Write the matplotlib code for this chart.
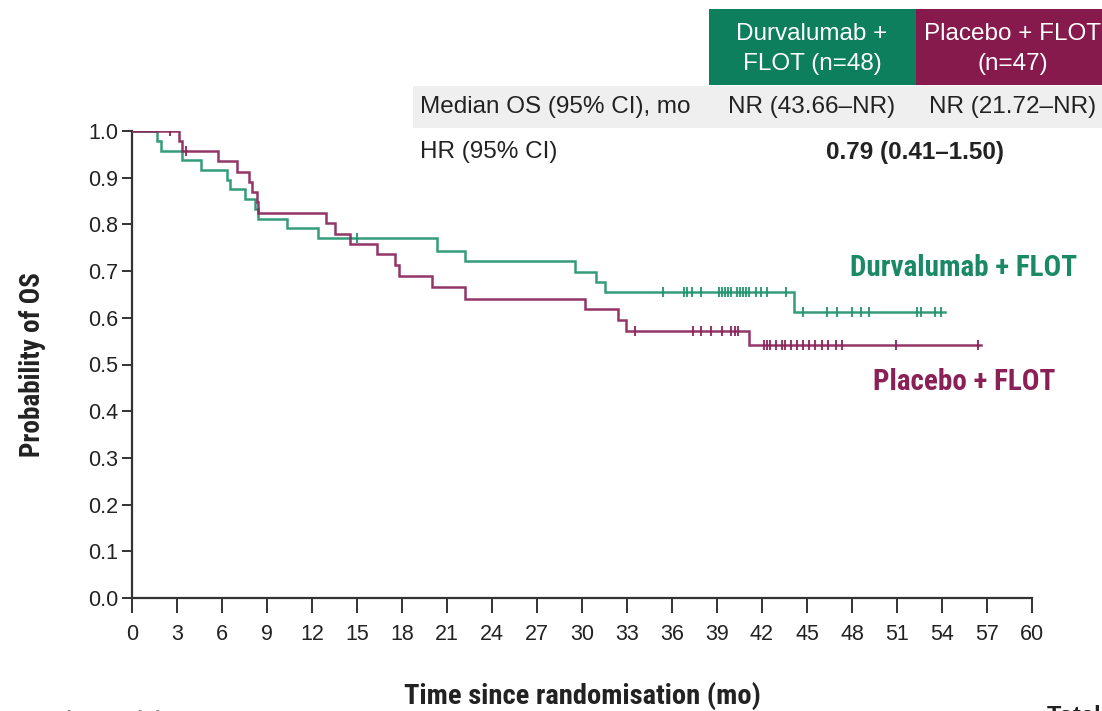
import numpy as np
import matplotlib
matplotlib.use("Agg")
import matplotlib.pyplot as plt
from matplotlib import font_manager as fm
from matplotlib.patches import Rectangle

# ---------------- data ----------------
# Durvalumab + FLOT: event times (mo) and survival after each step
dur_times = [0, 1.65, 1.9, 3.3, 4.6, 6.3, 6.5, 7.5, 8.2, 8.4, 10.3, 12.4,
             20.3, 22.2, 29.5, 30.9, 31.5, 44.1]
dur_surv = [1.0, 0.979, 0.958, 0.938, 0.917, 0.896, 0.875, 0.854, 0.833,
            0.812, 0.792, 0.771, 0.744, 0.722, 0.699, 0.677, 0.656, 0.612]
dur_last = 54.2
dur_censor = [15.0, 35.4, 36.8, 37.0, 37.3, 37.9, 39.1, 39.3, 39.5, 39.7,
              39.9, 40.3, 40.5, 40.7, 40.9, 41.1, 41.6, 41.9, 42.3, 43.6,
              44.7, 46.3, 47.0, 48.0, 48.6, 49.1, 52.3, 52.6, 53.5, 53.9]

# Placebo + FLOT
pbo_times = [0, 3.1, 3.3, 5.7, 7.0, 7.8, 8.0, 8.3, 8.4, 12.9, 13.5, 14.5,
             16.3, 17.5, 17.8, 20.0, 22.2, 30.2, 32.4, 32.9, 41.1]
pbo_surv = [1.0, 0.978, 0.957, 0.935, 0.913, 0.891, 0.870, 0.848, 0.824,
            0.802, 0.780, 0.758, 0.736, 0.714, 0.690, 0.666, 0.641, 0.619,
            0.596, 0.572, 0.541]
pbo_last = 56.6
pbo_censor = [2.5, 3.6, 33.5, 37.4, 37.9, 38.6, 39.3, 39.9, 40.2, 40.4,
              42.1, 42.3, 42.5, 42.9, 43.3, 43.5, 43.9, 44.3, 44.7, 45.1,
              45.5, 46.0, 46.4, 46.9, 47.3, 50.9, 56.4]

x_ticks = list(range(0, 61, 3))
y_ticks = [0.0, 0.1, 0.2, 0.3, 0.4, 0.5, 0.6, 0.7, 0.8, 0.9, 1.0]

arm_names = ["Durvalumab + FLOT", "Placebo + FLOT"]
header_top = ["Durvalumab +", "Placebo + FLOT"]
header_bottom = ["FLOT (n=48)", "(n=47)"]
median_label = "Median OS (95% CI), mo"
median_vals = ["NR (43.66\u2013NR)", "NR (21.72\u2013NR)"]
hr_label = "HR (95% CI)"
hr_val = "0.79 (0.41\u20131.50)"
risk_label = "Number at risk"
risk_total = "Total"

# ---------------- style ----------------
GREEN_LINE = "#23946f"
PURPLE_LINE = "#8a2459"
GREEN_BOX = "#0d7f5c"
PURPLE_BOX = "#871a4c"
GREEN_TXT = "#1a8a66"
PURPLE_TXT = "#8a2055"
AXIS_COL = "#333333"
TEXT_COL = "#222222"

names = {f.name for f in fm.fontManager.ttflist}


def pick(*cands):
    for c in cands:
        if c in names:
            return c
    return "DejaVu Sans"


REG = pick("Liberation Sans", "Arial", "DejaVu Sans")
NARROW = pick("Liberation Sans Narrow", "Roboto Condensed",
              "Open Sans Condensed", "Liberation Sans")

W, H = 1102, 711
fig = plt.figure(figsize=(W / 100, H / 100), dpi=100)


def fx(px):
    return px / W


def fy(py):
    return 1 - py / H


ax = fig.add_axes([fx(132), fy(598), 900 / W, 467 / H])
ax.set_xlim(0, 60)
ax.set_ylim(0, 1)
for side in ("top", "right"):
    ax.spines[side].set_visible(False)
for side in ("left", "bottom"):
    ax.spines[side].set_color(AXIS_COL)
    ax.spines[side].set_linewidth(1.6)
ax.set_xticks(x_ticks)
ax.set_xticklabels([str(v) for v in x_ticks])
ax.set_yticks(y_ticks)
ax.set_yticklabels([f"{v:.1f}" for v in y_ticks])
ax.tick_params(axis="x", direction="out", length=11, width=1.4,
               color=AXIS_COL, pad=8, labelsize=15.5, labelcolor=TEXT_COL)
ax.tick_params(axis="y", direction="out", length=7, width=1.4,
               color=AXIS_COL, pad=3, labelsize=15.5, labelcolor=TEXT_COL)
for lab in ax.get_xticklabels() + ax.get_yticklabels():
    lab.set_fontfamily(REG)
ax.patch.set_alpha(0)


def km(ax, times, surv, last, censor, color):
    xs = list(times) + [last]
    ys = list(surv) + [surv[-1]]
    ax.step(xs, ys, where="post", color=color, lw=1.8, alpha=0.92,
            solid_joinstyle="miter", zorder=3)
    idx = np.searchsorted(np.asarray(times), np.asarray(censor),
                          side="right") - 1
    cy = np.asarray(surv)[idx]
    ax.plot(censor, cy, ls="none", marker="|", ms=7, mew=1.5,
            color=color, alpha=0.9, zorder=4)


km(ax, dur_times, dur_surv, dur_last, dur_censor, GREEN_LINE)
km(ax, pbo_times, pbo_surv, pbo_last, pbo_censor, PURPLE_LINE)

# axis titles
fig.text(fx(33), fy(365), "Probability of OS", rotation=90, ha="center",
         va="center", fontsize=19.5, fontweight="bold", family=NARROW,
         color=TEXT_COL)
fig.text(fx(582), fy(696), "Time since randomisation (mo)", ha="center",
         va="center", fontsize=20.5, fontweight="bold", family=NARROW,
         color=TEXT_COL)

# curve labels
fig.text(fx(850), fy(268), arm_names[0], ha="left", va="center",
         fontsize=21, fontweight="bold", family=NARROW, color=GREEN_TXT)
fig.text(fx(873), fy(382), arm_names[1], ha="left", va="center",
         fontsize=21, fontweight="bold", family=NARROW, color=PURPLE_TXT)

# summary table
fig.patches.append(Rectangle((fx(413), fy(128)), (W - 413) / W, 42 / H,
                             transform=fig.transFigure, facecolor="#efefef",
                             edgecolor="none", zorder=0))
fig.patches.append(Rectangle((fx(709), fy(85)), 207 / W, 76 / H,
                             transform=fig.transFigure, facecolor=GREEN_BOX,
                             edgecolor="none", zorder=0))
fig.patches.append(Rectangle((fx(916), fy(85)), 220 / W, 76 / H,
                             transform=fig.transFigure, facecolor=PURPLE_BOX,
                             edgecolor="none", zorder=0))

col_x = [812, 1013]
for cx, top, bot in zip(col_x, header_top, header_bottom):
    fig.text(fx(cx), fy(34), top, ha="center", va="center", fontsize=17.5,
             family=REG, color="white")
    fig.text(fx(cx), fy(64), bot, ha="center", va="center", fontsize=17.5,
             family=REG, color="white")

fig.text(fx(420), fy(107), median_label, ha="left", va="center",
         fontsize=17.5, family=REG, color=TEXT_COL)
for cx, val in zip(col_x, median_vals):
    fig.text(fx(cx), fy(107), val, ha="center", va="center", fontsize=17.5,
             family=REG, color=TEXT_COL)
fig.text(fx(420), fy(152), hr_label, ha="left", va="center", fontsize=17.5,
         family=REG, color=TEXT_COL)
fig.text(fx(915), fy(152), hr_val, ha="center", va="center", fontsize=17.5,
         family=REG, fontweight="bold", color=TEXT_COL)

# risk-table headings running off the bottom edge
fig.text(fx(20), fy(710), risk_label, ha="left", va="top", fontsize=15,
         family=REG, fontweight="bold", color="#888888")
fig.text(fx(1047), fy(705), risk_total, ha="left", va="top", fontsize=17,
         family=REG, fontweight="bold", color=TEXT_COL)

fig.savefig("out.png", dpi=100, facecolor="white")
